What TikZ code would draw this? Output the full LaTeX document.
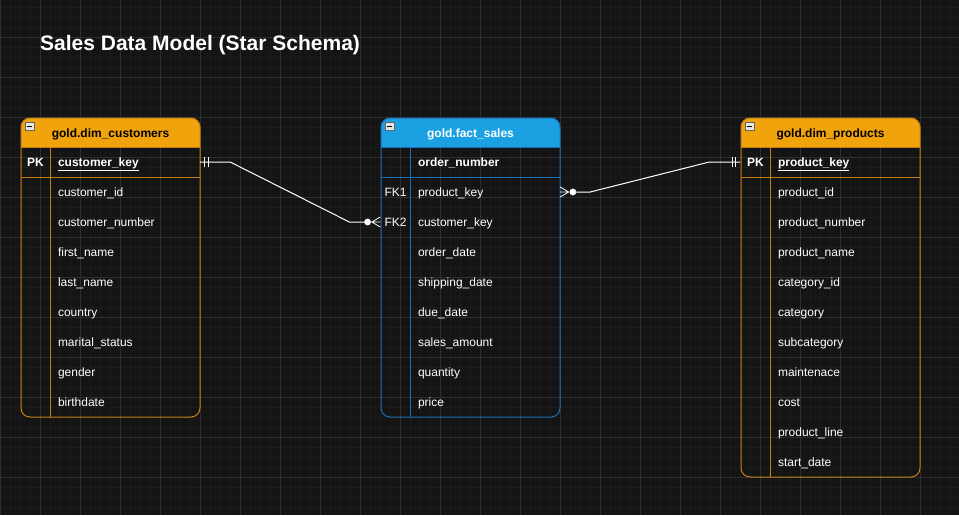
\documentclass[tikz,border=0pt]{standalone}
\usepackage{fontspec}
\setmainfont{Liberation Sans}
\definecolor{bgc}{HTML}{141414}
\definecolor{gridminor}{HTML}{1B1B1B}
\definecolor{gridmajor}{HTML}{2E2E2E}
\definecolor{orfill}{HTML}{F0A30A}
\definecolor{orline}{RGB}{196,127,22}
\definecolor{blfill}{HTML}{1BA1E2}
\definecolor{blline}{HTML}{1A6EB4}
\newcommand\ertable[7]{%
  \begin{scope}
    \clip (#2,110) rectangle ({#2+179},147);
    \fill[#4, rounded corners=9pt] (#2,118) rectangle ({#2+179},170);
  \end{scope}
  \draw[#5, line width=1pt] (#2,147) -- ({#2+179},147) (#2,177) -- ({#2+179},177) ({#2+29},147) -- ({#2+29},#3);
  \draw[#5, line width=1pt, rounded corners=9pt] (#2,118) rectangle ({#2+179},#3);
  \node[hdrtxt, text=#6] (#1-h) at ({#2+89.5},133) {#7};
  \draw[fill=black!10, draw=black!60, line width=0.6pt] ({#2+4},122.5) rectangle ({#2+13},130.5);
  \draw[black, line width=1pt] ({#2+6},126.5) -- ({#2+11},126.5);
}
\begin{document}
\begin{tikzpicture}[x=1pt,y=-1pt,
  rowtxt/.style={text=white, font=\fontsize{12}{14}\selectfont, inner xsep=0pt, inner ysep=0pt,
    text width=142pt, align=left, minimum height=30pt, text height=9.8pt, text depth=1.8pt},
  keytxt/.style={text=white, font=\fontsize{12}{14}\selectfont, inner sep=0pt,
    minimum width=30pt, minimum height=30pt, text height=9.8pt, text depth=1.8pt},
  hdrtxt/.style={font=\bfseries\fontsize{12}{14}\selectfont, inner sep=0pt, text height=9.8pt, text depth=1.8pt},
  rel/.style={white, line width=1pt},
  erbar/.style={white, line width=0.8pt},
]
\fill[bgc] (0,0) rectangle (959,515);
\useasboundingbox (0,0) rectangle (959,515);
% grid
\foreach \x in {0,10,...,950} \draw[gridminor, line width=1pt] (\x,0) -- (\x,515);
\foreach \y in {7,17,...,507} \draw[gridminor, line width=1pt] (0,\y) -- (959,\y);
\foreach \x in {0,40,...,920} \draw[gridmajor, line width=1pt] (\x,0) -- (\x,515);
\foreach \y in {37,77,...,477} \draw[gridmajor, line width=1pt] (0,\y) -- (959,\y);

% title
\node[anchor=base west, inner sep=0pt, text=white, font=\bfseries\fontsize{21}{25}\selectfont] (title) at (40,50) {Sales Data Model (Star Schema)};

% customers
\ertable{cust}{21}{417}{orfill}{orline}{black}{gold.dim\_customers}
\node[keytxt, font=\bfseries\fontsize{12}{14}\selectfont] (cpk) at (35.5,162) {PK};
\node[rowtxt, font=\bfseries\fontsize{12}{14}\selectfont] (c-0) at (129,162) {\underline{customer\_key}};
\foreach \t [count=\i] in {customer\_id, customer\_number, first\_name, last\_name, country, marital\_status, gender, birthdate}
  \node[rowtxt] (c-\i) at (129,{162+30*\i}) {\t};

% fact
\ertable{fact}{381}{417}{blfill}{blline}{white}{gold.fact\_sales}
\node[rowtxt, font=\bfseries\fontsize{12}{14}\selectfont] (f-0) at (489,162) {order\_number};
\node[keytxt] (fk1) at (395.5,192) {FK1};
\node[keytxt] (fk2) at (395.5,222) {FK2};
\foreach \t [count=\i] in {product\_key, customer\_key, order\_date, shipping\_date, due\_date, sales\_amount, quantity, price}
  \node[rowtxt] (f-\i) at (489,{162+30*\i}) {\t};

% products
\ertable{prod}{741}{477}{orfill}{orline}{black}{gold.dim\_products}
\node[keytxt, font=\bfseries\fontsize{12}{14}\selectfont] (ppk) at (755.5,162) {PK};
\node[rowtxt, font=\bfseries\fontsize{12}{14}\selectfont] (p-0) at (849,162) {\underline{product\_key}};
\foreach \t [count=\i] in {product\_id, product\_number, product\_name, category\_id, category, subcategory, maintenace, cost, product\_line, start\_date}
  \node[rowtxt] (p-\i) at (849,{162+30*\i}) {\t};

% relation customers -> fact
\draw[rel] (c-0.east) -- ++(30,0) -- ([xshift=-31pt]fk2.west) -- ([xshift=-15pt]fk2.west);
\draw[erbar] ([xshift=4.3pt,yshift=5pt]c-0.east) -- ([xshift=4.3pt,yshift=-5pt]c-0.east);
\draw[erbar] ([xshift=7.7pt,yshift=5pt]c-0.east) -- ([xshift=7.7pt,yshift=-5pt]c-0.east);
\fill[white] ([xshift=-12.7pt]fk2.west) circle (3.4pt);
\draw[erbar] ([yshift=5pt]fk2.west) -- ([xshift=-8.5pt]fk2.west) -- ([yshift=-5pt]fk2.west)
            ([xshift=-8.5pt]fk2.west) -- (fk2.west);

% relation fact -> products
\draw[rel] ([xshift=15pt]f-1.east) -- ([xshift=30pt]f-1.east) -- ([xshift=-31pt]ppk.west) -- (ppk.west);
\fill[white] ([xshift=12.7pt]f-1.east) circle (3.4pt);
\draw[erbar] ([yshift=5pt]f-1.east) -- ([xshift=8.5pt]f-1.east) -- ([yshift=-5pt]f-1.east)
            ([xshift=8.5pt]f-1.east) -- (f-1.east);
\draw[erbar] ([xshift=-8.3pt,yshift=5pt]ppk.west) -- ([xshift=-8.3pt,yshift=-5pt]ppk.west);
\draw[erbar] ([xshift=-5pt,yshift=5pt]ppk.west) -- ([xshift=-5pt,yshift=-5pt]ppk.west);
\end{tikzpicture}
\end{document}
